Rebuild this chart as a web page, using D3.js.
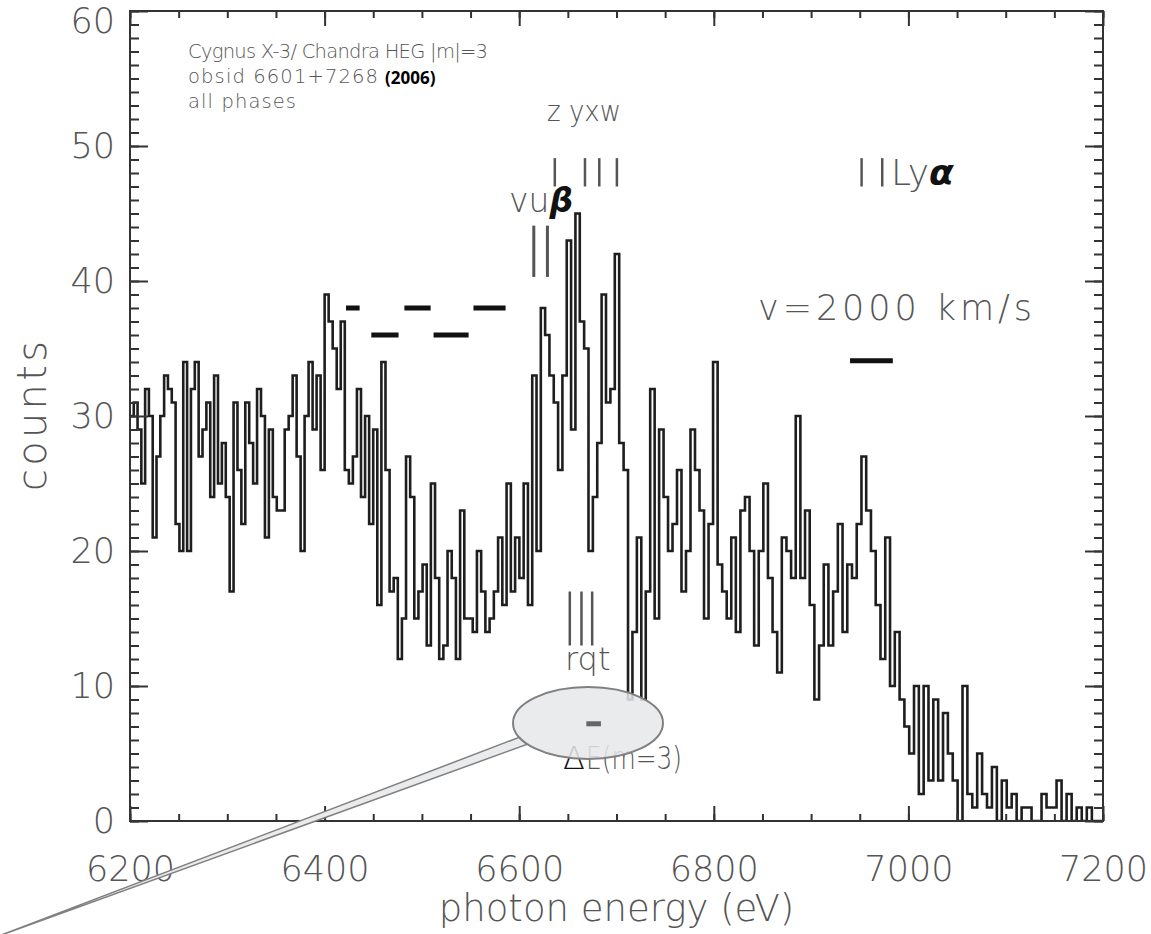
<!DOCTYPE html>
<html>
<head>
<meta charset="utf-8">
<script src="https://cdn.jsdelivr.net/npm/d3@7"></script>
<style>
  html, body { margin: 0; padding: 0; background: #fff; }
  svg { display: block; }
  .thin { font-family: 'DejaVu Sans', sans-serif; font-weight: 200; fill: #555; }
  .axis line { stroke: #333; stroke-width: 2; }
  .axis text { font-family: 'DejaVu Sans', sans-serif; font-weight: 200; fill: #555; font-size: 35px; }
</style>
</head>
<body>
<div id="chart"></div>
<script>
// Cyg X-3, Chandra HEG m=3, Fe K band. Bins are uniform in wavelength.
const lambdaStart = 1.999745   // Å, left edge of first bin (= 6200 eV)
const lambdaStep = 0.00125     // Å per bin
const counts = [
  30, 31, 29, 25, 32, 30, 21, 27, 30, 33,
  32, 31, 22, 20, 34, 20, 32, 34, 27, 29,
  31, 24, 33, 25, 28, 24, 17, 31, 26, 22,
  31, 28, 25, 32, 30, 21, 29, 24, 23, 23,
  29, 30, 33, 27, 20, 30, 34, 29, 33, 26,
  39, 37, 35, 32, 37, 26, 25, 27, 32, 24,
  30, 22, 29, 16, 34, 26, 17, 18, 12, 15,
  27, 24, 15, 17, 19, 13, 25, 18, 12, 13,
  20, 18, 12, 23, 15, 15, 14, 20, 17, 14,
  15, 17, 21, 16, 25, 17, 21, 18, 25, 16,
  33, 20, 38, 36, 33, 31, 26, 33, 43, 29,
  45, 37, 35, 20, 24, 28, 39, 31, 32, 42,
  28, 26, 9, 14, 21, 9, 17, 32, 15, 29,
  24, 20, 22, 26, 17, 20, 29, 26, 23, 15,
  22, 34, 19, 17, 15, 21, 14, 23, 24, 20,
  13, 20, 25, 18, 14, 11, 21, 20, 18, 30,
  18, 23, 16, 9, 13, 19, 13, 17, 22, 14,
  19, 18, 22, 27, 23, 20, 16, 12, 21, 10,
  14, 9, 7, 5, 10, 2, 10, 3, 9, 3,
  8, 5, 3, 0, 10, 2, 1, 5, 2, 1,
  4, 0, 3, 1, 2, 0, 1, 1, 0, 0,
  2, 1, 1, 3, 0, 2, 0, 1, 0, 1,
  0, 0, 0
]

const xTickValues = [6200, 6400, 6600, 6800, 7000, 7200]
const yTickValues = [0, 10, 20, 30, 40, 50, 60]

// line markers (eV)
const heEnergies = [6636.6, 6667.6, 6682.3, 6700.4]   // z, y, x, w
const lyaEnergies = [6951.9, 6973.1]
const vuEnergies = [6615, 6629]
const rqtEnergies = [6652, 6664, 6675]

// velocity bars [from, to] in eV
const velBarsUpper = [[6422, 6436], [6482, 6509], [6553, 6586]]
const velBarsLower = [[6448, 6476], [6512, 6548]]
const scaleBar = [6940, 6984]
const resolutionBar = [6669, 6684]

const titleLines = ['Cygnus X-3/ Chandra HEG |m|=3', 'obsid 6601+7268', 'all phases']
const titleWidths = [300, 190, 108]

const hc = 12398.42
const width = 1151
const height = 934

const x = d3.scaleLinear().domain([6200, 7200]).range([130, 1103])
const y = d3.scaleLinear().domain([0, 60]).range([821, 11])

const svg = d3.select('#chart').append('svg')
  .attr('width', width)
  .attr('height', height)

svg.append('clipPath').attr('id', 'plot-clip')
  .append('rect')
  .attr('x', x(6200)).attr('y', y(60))
  .attr('width', x(7200) - x(6200)).attr('height', y(0) - y(60))

const ell = { cx: 588, cy: 723, rx: 75, ry: 36 }

// histogram
const steps = counts.map((c, i) => [hc / (lambdaStart - i * lambdaStep), c])
steps.push([hc / (lambdaStart - counts.length * lambdaStep), counts[counts.length - 1]])

const line = d3.line()
  .x(d => x(d[0]))
  .y(d => y(d[1]))
  .curve(d3.curveStepAfter)

svg.append('path')
  .datum(steps)
  .attr('clip-path', 'url(#plot-clip)')
  .attr('fill', 'none')
  .attr('stroke', '#1e1e1e')
  .attr('stroke-width', 2.6)
  .attr('d', line)

// axes
const xMinor = d3.range(6200, 7201, 50)
const yMinor = d3.range(0, 61, 1)

function axisStyle (g) {
  g.attr('class', 'axis')
  g.select('.domain').remove()
}

svg.append('g').attr('transform', `translate(0,${y(0)})`)
  .call(d3.axisBottom(x).tickValues(xMinor).tickSize(-7).tickFormat(''))
  .call(axisStyle)
svg.append('g').attr('transform', `translate(0,${y(0)})`)
  .call(d3.axisBottom(x).tickValues(xTickValues).tickSize(-15).tickPadding(35).tickFormat(d3.format('d')))
  .call(axisStyle)
svg.append('g').attr('transform', `translate(0,${y(60)})`)
  .call(d3.axisTop(x).tickValues(xMinor).tickSize(-7).tickFormat(''))
  .call(axisStyle)
svg.append('g').attr('transform', `translate(0,${y(60)})`)
  .call(d3.axisTop(x).tickValues(xTickValues).tickSize(-15).tickFormat(''))
  .call(axisStyle)

svg.append('g').attr('transform', `translate(${x(6200)},0)`)
  .call(d3.axisLeft(y).tickValues(yMinor).tickSize(-9).tickFormat(''))
  .call(axisStyle)
const yAxis = svg.append('g').attr('transform', `translate(${x(6200)},0)`)
  .call(d3.axisLeft(y).tickValues(yTickValues).tickSize(-18).tickPadding(15).tickFormat(d3.format('d')))
  .call(axisStyle)
yAxis.selectAll('text').filter(d => d === 60).attr('dy', '0.62em')

svg.append('g').attr('transform', `translate(${x(7200)},0)`)
  .call(d3.axisRight(y).tickValues(yMinor).tickSize(-9).tickFormat(''))
  .call(axisStyle)
svg.append('g').attr('transform', `translate(${x(7200)},0)`)
  .call(d3.axisRight(y).tickValues(yTickValues).tickSize(-18).tickFormat(''))
  .call(axisStyle)

svg.append('rect')
  .attr('x', x(6200)).attr('y', y(60))
  .attr('width', x(7200) - x(6200)).attr('height', y(0) - y(60))
  .attr('fill', 'none').attr('stroke', '#333').attr('stroke-width', 2)

// axis titles
svg.append('text').attr('class', 'thin')
  .attr('x', (x(6200) + x(7200)) / 2).attr('y', 921)
  .attr('text-anchor', 'middle').attr('font-size', 37)
  .text('photon energy (eV)')

svg.append('text').attr('class', 'thin')
  .attr('transform', `translate(46,${(y(0) + y(60)) / 2}) rotate(-90)`)
  .attr('text-anchor', 'middle').attr('font-size', 40)
  .attr('textLength', 150).attr('lengthAdjust', 'spacing')
  .text('counts')

// title block
svg.selectAll('.title-line').data(titleLines).enter()
  .append('text').attr('class', 'thin title-line')
  .attr('x', 188).attr('y', (d, i) => 58 + i * 25)
  .attr('font-size', 19.5)
  .attr('textLength', (d, i) => titleWidths[i]).attr('lengthAdjust', 'spacing')
  .text(d => d)

svg.append('text')
  .attr('x', 385).attr('y', 84)
  .attr('font-family', "'Open Sans', sans-serif").attr('font-weight', 700)
  .attr('font-size', 17).attr('fill', '#000')
  .text('(2006)')

// marker lines
function markers (energies, lo, hi, w) {
  svg.append('g').selectAll('line').data(energies).enter().append('line')
    .attr('x1', d => x(d)).attr('x2', d => x(d))
    .attr('y1', y(lo)).attr('y2', y(hi))
    .attr('stroke', '#555').attr('stroke-width', w)
}
markers(heEnergies, 47.0, 49.1, 2.5)
markers(lyaEnergies, 47.0, 49.1, 2.5)
markers(vuEnergies, 40.3, 44.1, 3)
markers(rqtEnergies, 13.0, 17.0, 2.5)

svg.append('text').attr('class', 'thin')
  .attr('x', 547).attr('y', 121).attr('font-size', 29)
  .attr('textLength', 74).attr('lengthAdjust', 'spacingAndGlyphs')
  .text('z yxw')

const vu = svg.append('text').attr('class', 'thin')
  .attr('x', 509).attr('y', 212).attr('font-size', 33)
vu.append('tspan').text('vu')
vu.append('tspan').attr('font-weight', 700).attr('font-style', 'italic')
  .attr('fill', '#111').text('β')

const lya = svg.append('text').attr('class', 'thin')
  .attr('x', 891).attr('y', 185).attr('font-size', 36)
lya.append('tspan').text('Ly')
lya.append('tspan').attr('font-weight', 700).attr('font-style', 'italic')
  .attr('fill', '#111').text('α')

svg.append('text').attr('class', 'thin')
  .attr('x', 565).attr('y', 670).attr('font-size', 32)
  .text('rqt')

svg.append('text').attr('class', 'thin')
  .attr('x', 758).attr('y', 320).attr('font-size', 35)
  .attr('textLength', 274).attr('lengthAdjust', 'spacing')
  .text('v=2000 km/s')

// velocity bars
const bars = svg.append('g').attr('stroke', '#111').attr('stroke-width', 5)
velBarsUpper.forEach(b => bars.append('line')
  .attr('x1', x(b[0])).attr('x2', x(b[1])).attr('y1', y(38)).attr('y2', y(38)))
velBarsLower.forEach(b => bars.append('line')
  .attr('x1', x(b[0])).attr('x2', x(b[1])).attr('y1', y(36)).attr('y2', y(36)))
bars.append('line')
  .attr('x1', x(scaleBar[0])).attr('x2', x(scaleBar[1])).attr('y1', y(34.1)).attr('y2', y(34.1))

// resolution label + callout
svg.append('text').attr('class', 'thin')
  .attr('x', 563).attr('y', 769).attr('font-size', 32)
  .style('fill', '#111')
  .text('Δ')
svg.append('text').attr('class', 'thin')
  .attr('x', 586).attr('y', 769).attr('font-size', 32)
  .attr('textLength', 96).attr('lengthAdjust', 'spacingAndGlyphs')
  .text('E(m=3)')

svg.append('path')
  .attr('d', `M-4,937 L${ell.cx - 68},${ell.cy + 14} L${ell.cx - 60},${ell.cy + 21} Z`)
  .attr('fill', '#eaebed').attr('stroke', '#808080').attr('stroke-width', 1.5)

svg.append('ellipse')
  .attr('cx', ell.cx).attr('cy', ell.cy).attr('rx', ell.rx).attr('ry', ell.ry)
  .attr('fill', '#e6e7ea').attr('fill-opacity', 0.85)
  .attr('stroke', '#808080').attr('stroke-width', 2)

svg.append('line')
  .attr('x1', x(resolutionBar[0])).attr('x2', x(resolutionBar[1]))
  .attr('y1', y(7.2)).attr('y2', y(7.2))
  .attr('stroke', '#666').attr('stroke-width', 5)
</script>
</body>
</html>
